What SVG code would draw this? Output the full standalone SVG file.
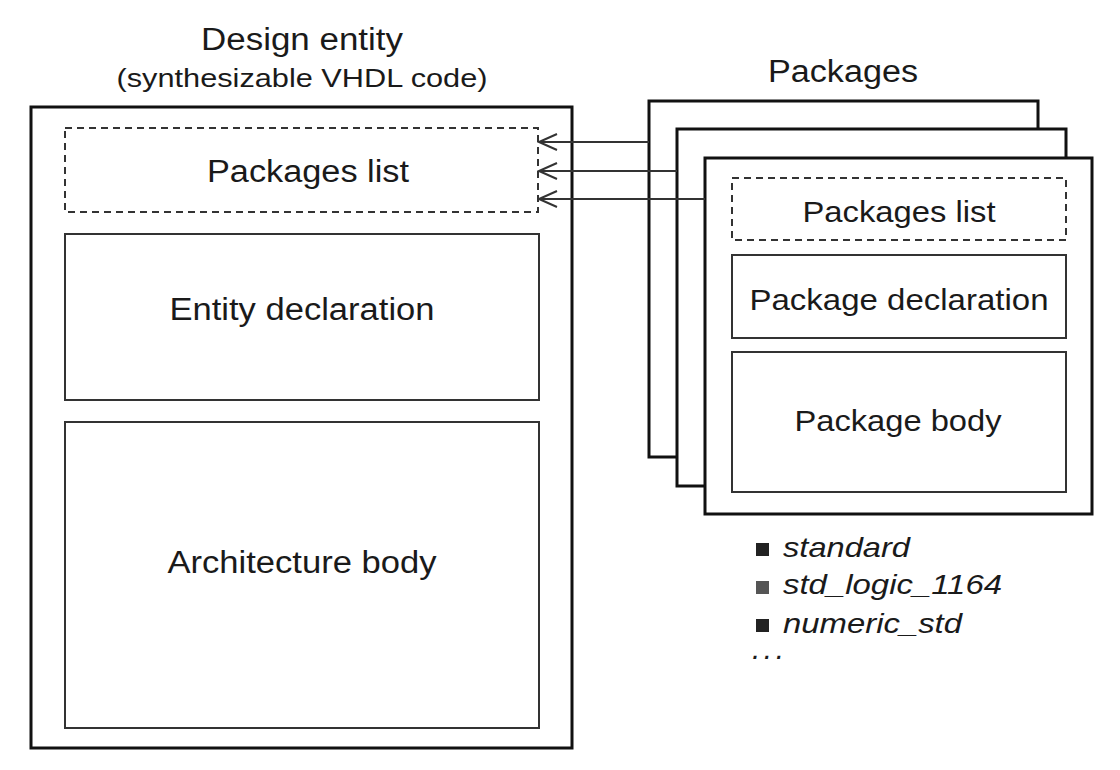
<svg xmlns="http://www.w3.org/2000/svg" width="1120" height="770" viewBox="0 0 1120 770">
<defs>
<style>
.t{font-family:"Liberation Sans",Arial,sans-serif;fill:#1a1a1a;text-anchor:middle}
.it{font-family:"Liberation Sans",Arial,sans-serif;fill:#1a1a1a;font-style:italic}
.outer{fill:#fff;stroke:#111;stroke-width:3}
.box{fill:#fff;stroke:#333;stroke-width:2}
.dash{fill:none;stroke:#333;stroke-width:2;stroke-dasharray:7,5}
.conn{stroke:#333;stroke-width:2;fill:none}
</style>
<marker id="arr" markerWidth="22" markerHeight="20" refX="20" refY="10" orient="auto" markerUnits="userSpaceOnUse">
<path d="M2,2 L20,10 L2,18" fill="none" stroke="#333" stroke-width="2"/>
</marker>
</defs>
<rect width="1120" height="770" fill="#fff"/>

<g id="design-entity">
<text class="t" x="302" y="50" font-size="31" textLength="202" lengthAdjust="spacingAndGlyphs">Design entity</text>
<text class="t" x="302" y="87" font-size="26" textLength="371" lengthAdjust="spacingAndGlyphs">(synthesizable VHDL code)</text>
<rect class="outer" x="31" y="107" width="541" height="641"/>
</g>
<g id="packages-list-left">
<rect class="dash" x="65" y="128" width="473" height="84"/>
<text class="t" x="308" y="182" font-size="31" textLength="202" lengthAdjust="spacingAndGlyphs">Packages list</text>
</g>
<g id="entity-declaration">
<rect class="box" x="65" y="234" width="474" height="166"/>
<text class="t" x="302" y="320" font-size="31" textLength="265" lengthAdjust="spacingAndGlyphs">Entity declaration</text>
</g>
<g id="architecture-body">
<rect class="box" x="65" y="422" width="474" height="306"/>
<text class="t" x="302" y="573" font-size="31" textLength="269" lengthAdjust="spacingAndGlyphs">Architecture body</text>
</g>

<g id="packages">
<text class="t" x="843" y="82" font-size="31" textLength="150" lengthAdjust="spacingAndGlyphs">Packages</text>
<rect class="outer" x="649" y="101" width="389" height="356"/>
<rect class="outer" x="677" y="129" width="389" height="357"/>
<rect class="outer" x="705" y="158" width="387" height="356"/>
</g>
<g id="packages-list-right">
<rect class="dash" x="732" y="178" width="334" height="62"/>
<text class="t" x="899" y="222" font-size="30" textLength="193" lengthAdjust="spacingAndGlyphs">Packages list</text>
</g>
<g id="package-declaration">
<rect class="box" x="732" y="255" width="334" height="83"/>
<text class="t" x="899" y="310" font-size="30" textLength="299" lengthAdjust="spacingAndGlyphs">Package declaration</text>
</g>
<g id="package-body">
<rect class="box" x="732" y="352" width="334" height="140"/>
<text class="t" x="898" y="431" font-size="30" textLength="207" lengthAdjust="spacingAndGlyphs">Package body</text>
</g>

<g id="package-names">
<rect x="756" y="543" width="13" height="13" fill="#222"/>
<text class="it" x="783" y="557" font-size="28" textLength="127" lengthAdjust="spacingAndGlyphs">standard</text>
<rect x="756" y="581" width="13" height="13" fill="#555"/>
<text class="it" x="783" y="594" font-size="28" textLength="219" lengthAdjust="spacingAndGlyphs">std_logic_1164</text>
<rect x="756" y="619" width="13" height="13" fill="#222"/>
<text class="it" x="783" y="633" font-size="28" textLength="179" lengthAdjust="spacingAndGlyphs">numeric_std</text>
<text class="it" x="752" y="659" font-size="30" textLength="32" lengthAdjust="spacing">...</text>
</g>

<g id="connectors">
<line class="conn" x1="649" y1="142" x2="539" y2="142" marker-end="url(#arr)"/>
<line class="conn" x1="677" y1="171" x2="539" y2="171" marker-end="url(#arr)"/>
<line class="conn" x1="705" y1="199" x2="539" y2="199" marker-end="url(#arr)"/>
</g>
</svg>
